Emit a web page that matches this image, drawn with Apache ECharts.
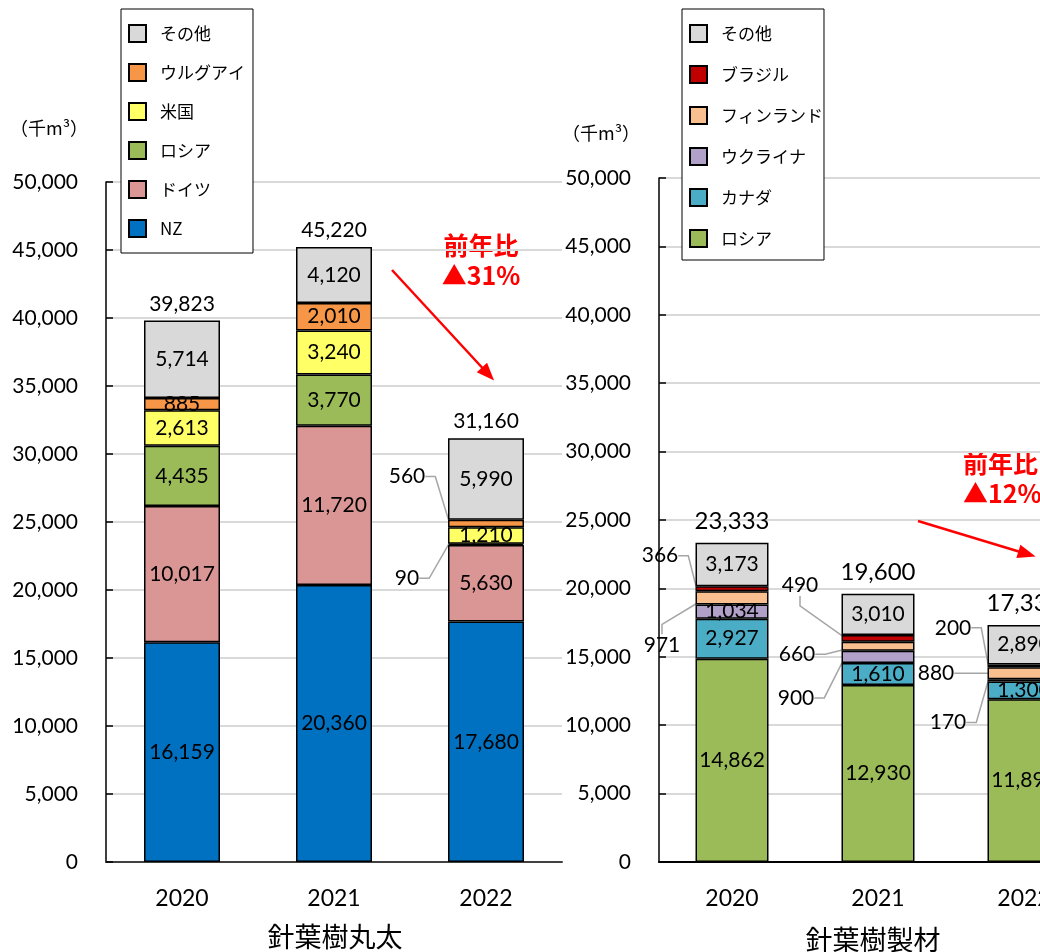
<!DOCTYPE html>
<html><head><meta charset="utf-8">
<script src="https://cdn.jsdelivr.net/npm/echarts@6/dist/echarts.min.js"></script>
<style>html,body{margin:0;padding:0;background:#fff}#c{width:1040px;height:952px}</style>
</head><body><div id="c"></div>
<script>
// ---- data ----
const years = ['2020', '2021', '2022'];
// 針葉樹丸太 (千m3)
const logNZ      = [16159, 20360, 17680];
const logGermany = [10017, 11720, 5630];
const logRussia  = [4435, 3770, 90];
const logUSA     = [2613, 3240, 1210];
const logUruguay = [885, 2010, 560];
const logOther   = [5714, 4120, 5990];
const logTotal   = [39823, 45220, 31160];
// 針葉樹製材 (千m3)
const lumRussia  = [14862, 12930, 11890];
const lumCanada  = [2927, 1610, 1300];
const lumUkraine = [1034, 900, 170];
const lumFinland = [971, 660, 880];
const lumBrazil  = [366, 490, 200];
const lumOther   = [3173, 3010, 2890];
const lumTotal   = [23333, 19600, 17330];
const yTicks = [0, 50000, 5000]; // min, max, interval

// ---- styles / label placement (not data) ----
const NUM = 'Lato';
const JP = '"Noto Sans CJK JP"';
const fmt = v => Number(v).toLocaleString('en-US');
const colors = {
  'NZ': '#0070C0', 'ドイツ': '#DA9694', 'ロシア': '#9BBB59', '米国': '#FFFF66',
  'ウルグアイ': '#F79646', 'その他': '#D9D9D9', 'カナダ': '#4BACC6',
  'ウクライナ': '#B1A0C7', 'フィンランド': '#FABF8F', 'ブラジル': '#C00000'
};
// outside-label offsets per data index [dx, dy]
const outsideLog = {
  'ロシア': {2: [-79, 34]},
  'ウルグアイ': {2: [-79, -47]}
};
const outsideLum = {
  'ウクライナ': {1: [-82, 41], 2: [-76, 42]},
  'フィンランド': {0: [-70, 47], 1: [-81, 8], 2: [-88, 0]},
  'ブラジル': {0: [-72, -33], 1: [-78, -53], 2: [-71, -38]}
};

function seg(name, values, idx, stack, outside) {
  const off = (outside && outside[name]) || {};
  return {
    name, type: 'bar', stack, xAxisIndex: idx, yAxisIndex: idx,
    barWidth: '50%', barGap: '-100%',
    itemStyle: {color: colors[name], borderColor: '#000', borderWidth: 1.5},
    label: {show: true, position: 'inside', color: '#000', fontSize: 21, fontFamily: NUM,
      formatter: p => fmt(p.value)},
    labelLine: {show: false, length2: 10, lineStyle: {color: '#a6a6a6', width: 1.5}},
    labelLayout: params => {
      const o = off[params.dataIndex];
      return o ? {dx: o[0], dy: o[1]} : {};
    },
    data: values.map((v, i) => off[i] ? {value: v, labelLine: {show: true}} : v),
    emphasis: {disabled: true}, silent: true, animation: false
  };
}

function totalSeries(values, idx, fontSize, dist, arrow) {
  return {
    name: '合計', type: 'bar', xAxisIndex: idx, yAxisIndex: idx,
    barWidth: '50%', barGap: '-100%', z: 1,
    itemStyle: {color: 'rgba(0,0,0,0)', borderWidth: 0},
    label: {show: true, position: 'top', distance: dist, color: '#000', fontSize, fontFamily: NUM,
      formatter: p => fmt(p.value)},
    data: values,
    silent: true, animation: false, emphasis: {disabled: true},
    markLine: {
      silent: true, animation: false,
      symbol: ['none', 'triangle'], symbolSize: [14, 18],
      label: {show: false},
      lineStyle: {color: '#FF0000', width: 2.5, type: 'solid'},
      emphasis: {disabled: true},
      data: [[{x: arrow[0], y: arrow[1]}, {x: arrow[2], y: arrow[3]}]]
    }
  };
}

const yAxisCommon = {
  type: 'value', min: yTicks[0], max: yTicks[1], interval: yTicks[2],
  axisLine: {show: true, lineStyle: {color: '#000', width: 1.5}},
  axisTick: {show: true, inside: true, length: 7, lineStyle: {color: '#000', width: 1.5}},
  axisLabel: {color: '#000', fontSize: 21, fontFamily: NUM, margin: 28, formatter: v => fmt(v)},
  splitLine: {show: true, lineStyle: {color: '#D9D9D9', width: 2}}
};
const xAxisCommon = {
  type: 'category', data: years,
  axisTick: {show: false},
  axisLabel: {color: '#000', fontSize: 23, fontFamily: NUM, margin: 25}
};
const legendCommon = {
  orient: 'vertical', itemWidth: 17, itemHeight: 17, icon: 'rect',
  borderColor: '#000', borderWidth: 1, backgroundColor: '#fff',
  selectedMode: false,
  itemStyle: {borderColor: '#000', borderWidth: 2},
  textStyle: {fontSize: 17, fontFamily: JP, color: '#000', padding: [0, 0, 0, 9]}
};

const chart = echarts.init(document.getElementById('c'), null, {renderer: 'canvas'});
chart.setOption({
  animation: false,
  textStyle: {fontFamily: NUM},
  grid: [
    {left: 106, top: 182, width: 456, height: 680, containLabel: false, outerBoundsMode: 'none'},
    {left: 659, top: 178, width: 438, height: 684, containLabel: false, outerBoundsMode: 'none'}
  ],
  xAxis: [
    Object.assign({gridIndex: 0}, xAxisCommon, {axisLine: {lineStyle: {color: '#404040', width: 2}}}),
    Object.assign({gridIndex: 1}, xAxisCommon, {axisLine: {lineStyle: {color: '#000', width: 2}}})
  ],
  yAxis: [
    Object.assign({gridIndex: 0}, yAxisCommon),
    Object.assign({gridIndex: 1}, yAxisCommon)
  ],
  legend: [
    Object.assign({}, legendCommon, {left: 121, top: 9, itemGap: 20, padding: [15, 8, 15, 7],
      data: ['その他', 'ウルグアイ', '米国', 'ロシア', 'ドイツ', 'NZ']}),
    Object.assign({}, legendCommon, {left: 682, top: 9, itemGap: 22, padding: [15, 1, 12, 7],
      data: ['その他', 'ブラジル', 'フィンランド', 'ウクライナ', 'カナダ', 'ロシア']})
  ],
  series: [
    seg('NZ', logNZ, 0, 'log', outsideLog),
    seg('ドイツ', logGermany, 0, 'log', outsideLog),
    seg('ロシア', logRussia, 0, 'log', outsideLog),
    seg('米国', logUSA, 0, 'log', outsideLog),
    seg('ウルグアイ', logUruguay, 0, 'log', outsideLog),
    seg('その他', logOther, 0, 'log', outsideLog),
    totalSeries(logTotal, 0, 21, 6, [392, 270, 488, 374]),
    seg('ロシア', lumRussia, 1, 'lum', outsideLum),
    seg('カナダ', lumCanada, 1, 'lum', outsideLum),
    seg('ウクライナ', lumUkraine, 1, 'lum', outsideLum),
    seg('フィンランド', lumFinland, 1, 'lum', outsideLum),
    seg('ブラジル', lumBrazil, 1, 'lum', outsideLum),
    seg('その他', lumOther, 1, 'lum', outsideLum),
    totalSeries(lumTotal, 1, 24, 10, [918, 521, 1027, 554])
  ],
  graphic: [
    {type: 'text', x: 10, y: 128, silent: true,
      style: {text: '（千m³）', fontSize: 18, fontFamily: JP, fill: '#000', verticalAlign: 'middle'}},
    {type: 'text', x: 562, y: 133, silent: true,
      style: {text: '（千m³）', fontSize: 18, fontFamily: JP, fill: '#000', verticalAlign: 'middle'}},
    {type: 'text', x: 335, y: 937, silent: true,
      style: {text: '針葉樹丸太', fontSize: 27, fontFamily: JP, fill: '#000', align: 'center', verticalAlign: 'middle'}},
    {type: 'text', x: 873, y: 940, silent: true,
      style: {text: '針葉樹製材', fontSize: 27, fontFamily: JP, fill: '#000', align: 'center', verticalAlign: 'middle'}},
    {type: 'text', x: 481, y: 260, silent: true,
      style: {text: '前年比\n▲31%', fontSize: 25, fontWeight: 'bold', fontFamily: JP, fill: '#FF0000',
        align: 'center', verticalAlign: 'middle', lineHeight: 30}},
    {type: 'text', x: 963, y: 478, silent: true,
      style: {text: '前年比\n▲12%', fontSize: 25, fontWeight: 'bold', fontFamily: JP, fill: '#FF0000',
        align: 'left', verticalAlign: 'middle', lineHeight: 30}}
  ]
});
</script>
</body></html>
